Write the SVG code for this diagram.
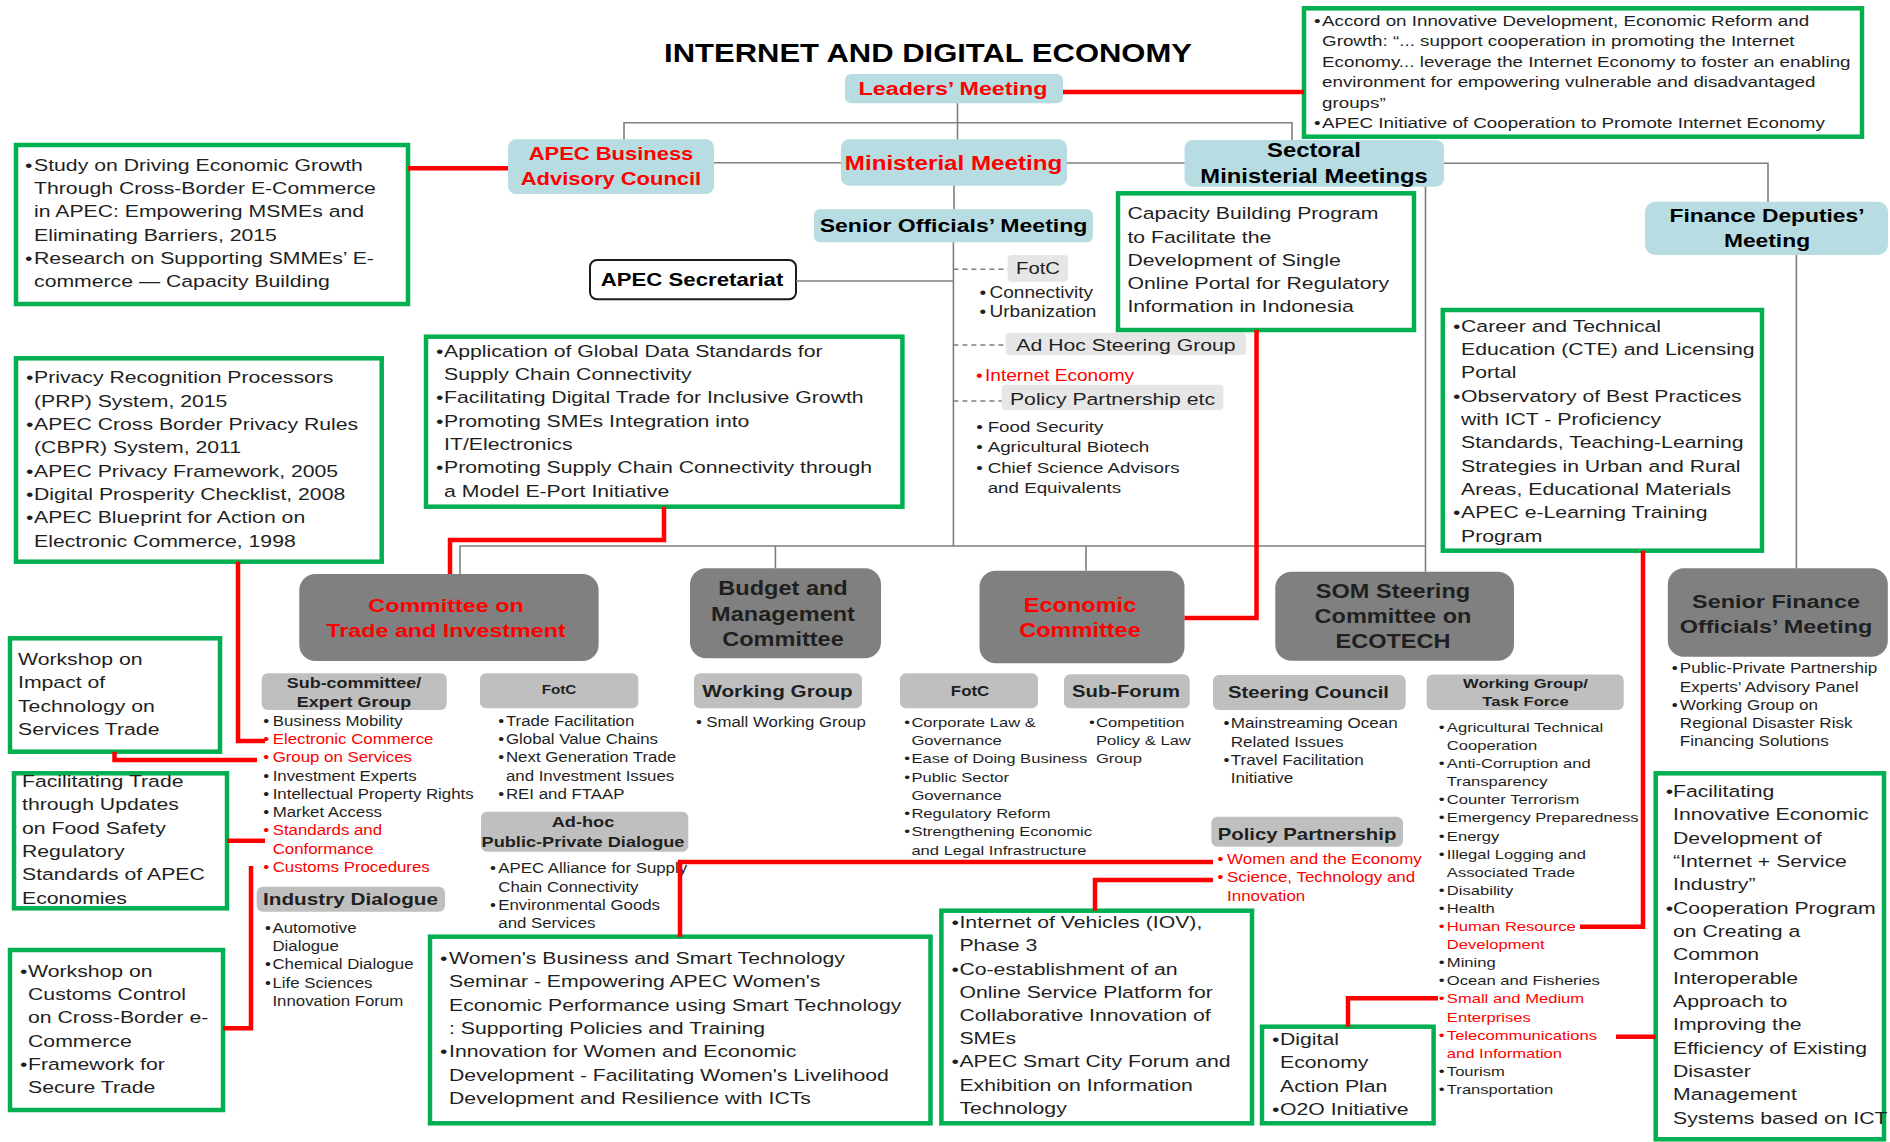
<svg xmlns="http://www.w3.org/2000/svg" width="1890" height="1142" viewBox="0 0 1890 1142">
<style>
text{font-family:"Liberation Sans",Arial,Helvetica,sans-serif;fill:#1f1f1f}
.b{font-weight:bold}
.r{fill:#ff0000}
.k{fill:#000000}
.m{text-anchor:middle}
.gb{fill:#ffffff;stroke:#00b050;stroke-width:4.5}
.lb{fill:#b7dde3}
.dg{fill:#808080}
.sg{fill:#bfbfbf}
.lg{fill:#e7e6e6}
.wb{fill:#ffffff;stroke:#1a1a1a;stroke-width:2}
.gl{fill:none;stroke:#7f7f7f;stroke-width:1.6}
.dl{fill:none;stroke:#7f7f7f;stroke-width:1.4;stroke-dasharray:5 4}
.rl{fill:none;stroke:#ff0000;stroke-width:4.5}
</style>
<rect width="1890" height="1142" fill="#ffffff"/>

<g id="title"><g transform="translate(928,0) scale(1.22,1)"><text class="b m k" y="62" font-size="25.4">INTERNET AND DIGITAL ECONOMY</text></g></g>

<g id="leaders-meeting">
<rect class="lb" x="845" y="74" width="218" height="29.3" rx="6"/>
<g transform="translate(953,0) scale(1.22,1)"><text class="b m r" y="95" font-size="19.1">Leaders’ Meeting</text></g>
</g>

<g id="ministerial-meeting">
<rect class="lb" x="841" y="139.3" width="226" height="46.4" rx="8"/>
<g transform="translate(953.5,0) scale(1.22,1)"><text class="b m r" y="170" font-size="19.8">Ministerial Meeting</text></g>
</g>

<g id="apec-business-advisory-council">
<rect class="lb" x="508" y="139.3" width="206" height="54.7" rx="8"/>
<g transform="translate(611,0) scale(1.22,1)" font-size="18"><text class="b m r" y="160">APEC Business</text><text class="b m r" y="185">Advisory Council</text></g>
</g>

<g id="sectoral-ministerial-meetings">
<rect class="lb" x="1184.5" y="140" width="259.5" height="46.7" rx="8"/>
<g transform="translate(1314,0) scale(1.22,1)" font-size="19.5"><text class="b m k" y="156.7">Sectoral</text><text class="b m k" y="182.7">Ministerial Meetings</text></g>
</g>

<g id="senior-officials-meeting">
<rect class="lb" x="814" y="209.3" width="279" height="33" rx="6"/>
<g transform="translate(953.5,0) scale(1.22,1)"><text class="b m k" y="232.3" font-size="18.9">Senior Officials’ Meeting</text></g>
</g>

<g id="apec-secretariat">
<rect class="wb" x="590" y="260" width="206" height="39.3" rx="7"/>
<g transform="translate(692,0) scale(1.22,1)"><text class="b m k" y="286" font-size="18.2">APEC Secretariat</text></g>
</g>

<g id="finance-deputies-meeting">
<rect class="lb" x="1645" y="201.7" width="243" height="53.3" rx="10"/>
<g transform="translate(1767,0) scale(1.22,1)" font-size="18.7"><text class="b m k" y="221.7">Finance Deputies’</text><text class="b m k" y="246.7">Meeting</text></g>
</g>

<g id="som-fotc">
<rect class="lg" x="1007.7" y="255" width="60.3" height="26.7" rx="4"/>
<g transform="translate(1038,0) scale(1.22,1)"><text class="m" y="274" font-size="16.6">FotC</text></g>
<g transform="translate(979.5,0) scale(1.22,1)" font-size="15.6">
<text y="297.7">•</text><text x="8.2" y="297.7">Connectivity</text>
<text y="316.7">•</text><text x="8.2" y="316.7">Urbanization</text>
</g>
</g>

<g id="som-adhoc-steering-group">
<rect class="lg" x="1005.6" y="332.7" width="240.4" height="22.3" rx="4"/>
<g transform="translate(1126,0) scale(1.22,1)"><text class="m" y="350.7" font-size="17.4">Ad Hoc Steering Group</text></g>
<g transform="translate(976,0) scale(1.22,1)" font-size="15.6">
<text class="r" y="381">•</text><text class="r" x="7.4" y="381">Internet Economy</text>
</g>
</g>

<g id="som-policy-partnership-etc">
<rect class="lg" x="1001.6" y="384.7" width="221.8" height="25.3" rx="4"/>
<g transform="translate(1112.5,0) scale(1.22,1)"><text class="m" y="405" font-size="17.4">Policy Partnership etc</text></g>
<g transform="translate(976.3,0) scale(1.22,1)" font-size="15.4">
<text y="431.7">•</text><text x="9.3" y="431.7">Food Security</text>
<text y="451.7">•</text><text x="9.3" y="451.7">Agricultural Biotech</text>
<text y="472.7">•</text><text x="9.3" y="472.7">Chief Science Advisors</text>
<text x="9.3" y="492.7">and Equivalents</text>
</g>
</g>

<g id="box-accord">
<rect class="gb" x="1304" y="8.3" width="558" height="128.4"/>
<g transform="translate(1314,0) scale(1.22,1)" font-size="15.4">
<text y="25.7">•</text><text x="6.6" y="25.7">Accord on Innovative Development, Economic Reform and</text>
<text x="6.6" y="46.2">Growth: “...  support cooperation in promoting the Internet</text>
<text x="6.6" y="66.7">Economy... leverage the Internet Economy to foster an enabling</text>
<text x="6.6" y="87.2">environment for empowering vulnerable and disadvantaged</text>
<text x="6.6" y="107.7">groups”</text>
<text y="128.2">•</text><text x="6.6" y="128.2">APEC Initiative of Cooperation to Promote Internet Economy</text>
</g>
</g>

<g id="box-study">
<rect class="gb" x="16" y="145" width="392" height="159"/>
<g transform="translate(25,0) scale(1.22,1)" font-size="17.4">
<text y="170.7">•</text><text x="7.4" y="170.7">Study on Driving Economic Growth</text>
<text x="7.4" y="194">Through Cross-Border E-Commerce</text>
<text x="7.4" y="217.3">in APEC: Empowering MSMEs and</text>
<text x="7.4" y="240.6">Eliminating Barriers, 2015</text>
<text y="264">•</text><text x="7.4" y="264">Research on Supporting SMMEs’ E-</text>
<text x="7.4" y="287.3">commerce — Capacity Building</text>
</g>
</g>

<g id="box-privacy">
<rect class="gb" x="16" y="358.3" width="365.7" height="203.4"/>
<g transform="translate(26,0) scale(1.22,1)" font-size="17.4">
<text y="383.4">•</text><text x="6.6" y="383.4">Privacy Recognition Processors</text>
<text x="6.6" y="406.7">(PRP) System, 2015</text>
<text y="430">•</text><text x="6.6" y="430">APEC Cross Border Privacy Rules</text>
<text x="6.6" y="453.4">(CBPR) System, 2011</text>
<text y="476.7">•</text><text x="6.6" y="476.7">APEC Privacy Framework, 2005</text>
<text y="500">•</text><text x="6.6" y="500">Digital Prosperity Checklist, 2008</text>
<text y="523.4">•</text><text x="6.6" y="523.4">APEC Blueprint for Action on</text>
<text x="6.6" y="546.7">Electronic Commerce, 1998</text>
</g>
</g>

<g id="box-application">
<rect class="gb" x="426" y="336.7" width="476.4" height="170"/>
<g transform="translate(436,0) scale(1.22,1)" font-size="17.4">
<text y="356.7">•</text><text x="6.6" y="356.7">Application of Global Data Standards for</text>
<text x="6.6" y="380">Supply Chain Connectivity</text>
<text y="403.3">•</text><text x="6.6" y="403.3">Facilitating Digital Trade for Inclusive Growth</text>
<text y="426.7">•</text><text x="6.6" y="426.7">Promoting SMEs Integration into</text>
<text x="6.6" y="450">IT/Electronics</text>
<text y="473.3">•</text><text x="6.6" y="473.3">Promoting Supply Chain Connectivity through</text>
<text x="6.6" y="496.7">a Model E-Port Initiative</text>
</g>
</g>

<g id="box-capacity-building">
<rect class="gb" x="1118" y="193.3" width="296" height="136.7"/>
<g transform="translate(1127.4,0) scale(1.22,1)" font-size="17.4">
<text y="219.5">Capacity Building Program</text>
<text y="242.6">to Facilitate the</text>
<text y="265.7">Development of Single</text>
<text y="288.8">Online Portal for Regulatory</text>
<text y="311.9">Information in Indonesia</text>
</g>
</g>

<g id="box-career">
<rect class="gb" x="1442.8" y="310" width="319.2" height="240.7"/>
<g transform="translate(1453,0) scale(1.22,1)" font-size="17.4">
<text y="331.7">•</text><text x="6.6" y="331.7">Career and Technical</text>
<text x="6.6" y="355">Education (CTE) and Licensing</text>
<text x="6.6" y="378.4">Portal</text>
<text y="401.7">•</text><text x="6.6" y="401.7">Observatory of Best Practices</text>
<text x="6.6" y="425">with ICT - Proficiency</text>
<text x="6.6" y="448.4">Standards, Teaching-Learning</text>
<text x="6.6" y="471.7">Strategies in Urban and Rural</text>
<text x="6.6" y="495">Areas, Educational Materials</text>
<text y="518.3">•</text><text x="6.6" y="518.3">APEC e-Learning Training</text>
<text x="6.6" y="541.7">Program</text>
</g>
</g>

<g id="committee-trade-investment">
<rect class="dg" x="299.3" y="574" width="299.3" height="87" rx="16"/>
<g transform="translate(446,0) scale(1.22,1)" font-size="19.1"><text class="b m r" y="611.7">Committee on</text><text class="b m r" y="636.7">Trade and Investment</text></g>
</g>

<g id="budget-management-committee">
<rect class="dg" x="690" y="568.3" width="191" height="90" rx="16"/>
<g transform="translate(783,0) scale(1.22,1)" font-size="19.3"><text class="b m" y="595">Budget and</text><text class="b m" y="620.7">Management</text><text class="b m" y="646">Committee</text></g>
</g>

<g id="economic-committee">
<rect class="dg" x="979.5" y="570.7" width="205" height="92.6" rx="16"/>
<g transform="translate(1080,0) scale(1.22,1)" font-size="19.3"><text class="b m r" y="611.7">Economic</text><text class="b m r" y="637.3">Committee</text></g>
</g>

<g id="som-steering-committee-ecotech">
<rect class="dg" x="1275.3" y="571.7" width="238.7" height="89" rx="16"/>
<g transform="translate(1393,0) scale(1.22,1)" font-size="19.3"><text class="b m" y="598.3">SOM Steering</text><text class="b m" y="623.3">Committee on</text><text class="b m" y="648.3">ECOTECH</text></g>
</g>

<g id="senior-finance-officials-meeting">
<rect class="dg" x="1667.8" y="568.3" width="220" height="88.4" rx="16"/>
<g transform="translate(1776,0) scale(1.22,1)" font-size="19.2"><text class="b m" y="608.3">Senior Finance</text><text class="b m" y="633.3">Officials’ Meeting</text></g>
<g transform="translate(1671.8,0) scale(1.22,1)" font-size="14">
<text y="673.3">•</text><text x="6.6" y="673.3">Public-Private Partnership</text>
<text x="6.6" y="691.6">Experts’ Advisory Panel</text>
<text y="709.9">•</text><text x="6.6" y="709.9">Working Group on</text>
<text x="6.6" y="728.2">Regional Disaster Risk</text>
<text x="6.6" y="746.5">Financing Solutions</text>
</g>
</g>

<g id="cti-subcommittee">
<rect class="sg" x="261.7" y="673.3" width="185" height="36.7" rx="6"/>
<g transform="translate(354,0) scale(1.22,1)" font-size="14.7"><text class="b m" y="688.3">Sub-committee/</text><text class="b m" y="706.7">Expert Group</text></g>
<g transform="translate(263.3,0) scale(1.22,1)" font-size="13.8">
<text y="725.7">•</text><text x="7.7" y="725.7">Business Mobility</text>
<text class="r" y="744">•</text><text class="r" x="7.7" y="744">Electronic Commerce</text>
<text class="r" y="762.3">•</text><text class="r" x="7.7" y="762.3">Group on Services</text>
<text y="780.6">•</text><text x="7.7" y="780.6">Investment Experts</text>
<text y="798.9">•</text><text x="7.7" y="798.9">Intellectual Property Rights</text>
<text y="817.2">•</text><text x="7.7" y="817.2">Market Access</text>
<text class="r" y="835.5">•</text><text class="r" x="7.7" y="835.5">Standards and</text>
<text class="r" x="7.7" y="853.8">Conformance</text>
<text class="r" y="872.1">•</text><text class="r" x="7.7" y="872.1">Customs Procedures</text>
</g>
</g>

<g id="cti-fotc">
<rect class="sg" x="480" y="673.3" width="158.3" height="35" rx="6"/>
<g transform="translate(559,0) scale(1.22,1)"><text class="b m" y="694.5" font-size="12.5">FotC</text></g>
<g transform="translate(498.3,0) scale(1.22,1)" font-size="13.8">
<text y="725.7">•</text><text x="6.3" y="725.7">Trade Facilitation</text>
<text y="744">•</text><text x="6.3" y="744">Global Value Chains</text>
<text y="762.3">•</text><text x="6.3" y="762.3">Next Generation Trade</text>
<text x="6.3" y="780.6">and Investment Issues</text>
<text y="798.9">•</text><text x="6.3" y="798.9">REI and FTAAP</text>
</g>
</g>

<g id="cti-adhoc-ppd">
<rect class="sg" x="481" y="811.7" width="207.3" height="40" rx="6"/>
<g transform="translate(583,0) scale(1.22,1)" font-size="14.9"><text class="b m" y="826.7">Ad-hoc</text><text class="b m" y="846.7">Public-Private Dialogue</text></g>
<g transform="translate(490,0) scale(1.22,1)" font-size="13.8">
<text y="873.3">•</text><text x="6.8" y="873.3">APEC Alliance for Supply</text>
<text x="6.8" y="891.6">Chain Connectivity</text>
<text y="909.9">•</text><text x="6.8" y="909.9">Environmental Goods</text>
<text x="6.8" y="928.2">and Services</text>
</g>
</g>

<g id="cti-industry-dialogue">
<rect class="sg" x="256.7" y="886.7" width="188.3" height="25" rx="6"/>
<g transform="translate(350.5,0) scale(1.22,1)"><text class="b m" y="905" font-size="17">Industry Dialogue</text></g>
<g transform="translate(265,0) scale(1.22,1)" font-size="13.8">
<text y="932.7">•</text><text x="6.1" y="932.7">Automotive</text>
<text x="6.1" y="951">Dialogue</text>
<text y="969.3">•</text><text x="6.1" y="969.3">Chemical Dialogue</text>
<text y="987.6">•</text><text x="6.1" y="987.6">Life Sciences</text>
<text x="6.1" y="1005.9">Innovation Forum</text>
</g>
</g>

<g id="bmc-working-group">
<rect class="sg" x="694" y="673.3" width="168" height="35" rx="6"/>
<g transform="translate(777.5,0) scale(1.22,1)"><text class="b m" y="697.5" font-size="17">Working Group</text></g>
<g transform="translate(696,0) scale(1.22,1)" font-size="13.8">
<text y="726.7">•</text><text x="8.4" y="726.7">Small Working Group</text>
</g>
</g>

<g id="ec-fotc">
<rect class="sg" x="900" y="673.3" width="138" height="35" rx="6"/>
<g transform="translate(970,0) scale(1.22,1)"><text class="b m" y="696.5" font-size="13.8">FotC</text></g>
<g transform="translate(904.3,0) scale(1.22,1)" font-size="13.6">
<text y="726.7">•</text><text x="5.8" y="726.7">Corporate Law &amp;</text>
<text x="5.8" y="745">Governance</text>
<text y="763.3">•</text><text x="5.8" y="763.3">Ease of Doing Business</text>
<text y="781.6">•</text><text x="5.8" y="781.6">Public Sector</text>
<text x="5.8" y="799.9">Governance</text>
<text y="818.2">•</text><text x="5.8" y="818.2">Regulatory Reform</text>
<text y="836.5">•</text><text x="5.8" y="836.5">Strengthening Economic</text>
<text x="5.8" y="854.8">and Legal Infrastructure</text>
</g>
</g>

<g id="ec-sub-forum">
<rect class="sg" x="1064" y="674.3" width="125.7" height="34" rx="6"/>
<g transform="translate(1126,0) scale(1.22,1)"><text class="b m" y="697" font-size="16.6">Sub-Forum</text></g>
<g transform="translate(1089,0) scale(1.22,1)" font-size="13.6">
<text y="726.7">•</text><text x="5.7" y="726.7">Competition</text>
<text x="5.7" y="745">Policy &amp; Law</text>
<text x="5.7" y="763.3">Group</text>
</g>
</g>

<g id="ecotech-steering-council">
<rect class="sg" x="1213" y="675" width="192.7" height="35" rx="6"/>
<g transform="translate(1308.5,0) scale(1.22,1)"><text class="b m" y="698.3" font-size="16.6">Steering Council</text></g>
<g transform="translate(1223.6,0) scale(1.22,1)" font-size="14">
<text y="728.3">•</text><text x="5.8" y="728.3">Mainstreaming Ocean</text>
<text x="5.8" y="746.6">Related Issues</text>
<text y="764.9">•</text><text x="5.8" y="764.9">Travel Facilitation</text>
<text x="5.8" y="783.2">Initiative</text>
</g>
</g>

<g id="ecotech-policy-partnership">
<rect class="sg" x="1211.4" y="816.7" width="191.6" height="30" rx="6"/>
<g transform="translate(1307,0) scale(1.22,1)"><text class="b m" y="840" font-size="16.7">Policy Partnership</text></g>
<g transform="translate(1217.5,0) scale(1.22,1)" font-size="13.9">
<text class="r" y="864">•</text><text class="r" x="7.8" y="864">Women and the Economy</text>
<text class="r" y="882.3">•</text><text class="r" x="7.8" y="882.3">Science, Technology and</text>
<text class="r" x="7.8" y="900.6">Innovation</text>
</g>
</g>

<g id="ecotech-working-group-task-force">
<rect class="sg" x="1426.7" y="674.5" width="197" height="35.5" rx="6"/>
<g transform="translate(1525.5,0) scale(1.22,1)" font-size="13.6"><text class="b m" y="688.3">Working Group/</text><text class="b m" y="706">Task Force</text></g>
<g transform="translate(1438.8,0) scale(1.22,1)" font-size="13.6">
<text y="732">•</text><text x="6.6" y="732">Agricultural Technical</text>
<text x="6.6" y="750.1">Cooperation</text>
<text y="768.2">•</text><text x="6.6" y="768.2">Anti-Corruption and</text>
<text x="6.6" y="786.3">Transparency</text>
<text y="804.4">•</text><text x="6.6" y="804.4">Counter Terrorism</text>
<text y="822.5">•</text><text x="6.6" y="822.5">Emergency Preparedness</text>
<text y="840.6">•</text><text x="6.6" y="840.6">Energy</text>
<text y="858.7">•</text><text x="6.6" y="858.7">Illegal Logging and</text>
<text x="6.6" y="876.8">Associated Trade</text>
<text y="894.9">•</text><text x="6.6" y="894.9">Disability</text>
<text y="913">•</text><text x="6.6" y="913">Health</text>
<text class="r" y="931.1">•</text><text class="r" x="6.6" y="931.1">Human Resource</text>
<text class="r" x="6.6" y="949.2">Development</text>
<text y="967.3">•</text><text x="6.6" y="967.3">Mining</text>
<text y="985.4">•</text><text x="6.6" y="985.4">Ocean and Fisheries</text>
<text class="r" y="1003.5">•</text><text class="r" x="6.6" y="1003.5">Small and Medium</text>
<text class="r" x="6.6" y="1021.6">Enterprises</text>
<text class="r" y="1039.7">•</text><text class="r" x="6.6" y="1039.7">Telecommunications</text>
<text class="r" x="6.6" y="1057.8">and Information</text>
<text y="1075.9">•</text><text x="6.6" y="1075.9">Tourism</text>
<text y="1094">•</text><text x="6.6" y="1094">Transportation</text>
</g>
</g>

<g id="box-workshop-impact">
<rect class="gb" x="10" y="638.3" width="210" height="113.4"/>
<g transform="translate(18,0) scale(1.22,1)" font-size="17.4">
<text y="665">Workshop on</text>
<text y="688.3">Impact of</text>
<text y="711.7">Technology on</text>
<text y="735">Services Trade</text>
</g>
</g>

<g id="box-facilitating-trade">
<rect class="gb" x="14" y="773.3" width="213" height="135"/>
<g transform="translate(22,0) scale(1.22,1)" font-size="17.4">
<text y="787">Facilitating Trade</text>
<text y="810.3">through Updates</text>
<text y="833.7">on Food Safety</text>
<text y="857">Regulatory</text>
<text y="880.3">Standards of APEC</text>
<text y="903.7">Economies</text>
</g>
</g>

<g id="box-workshop-customs">
<rect class="gb" x="10" y="950" width="213" height="160"/>
<g transform="translate(20,0) scale(1.22,1)" font-size="17.4">
<text y="976.7">•</text><text x="6.6" y="976.7">Workshop on</text>
<text x="6.6" y="1000">Customs Control</text>
<text x="6.6" y="1023.3">on Cross-Border e-</text>
<text x="6.6" y="1046.7">Commerce</text>
<text y="1070">•</text><text x="6.6" y="1070">Framework for</text>
<text x="6.6" y="1093.3">Secure Trade</text>
</g>
</g>

<g id="box-women">
<rect class="gb" x="430" y="936.7" width="500.5" height="186.6"/>
<g transform="translate(440,0) scale(1.22,1)" font-size="17.4">
<text y="964">•</text><text x="7.4" y="964">Women's Business and Smart Technology</text>
<text x="7.4" y="987.3">Seminar - Empowering APEC Women's</text>
<text x="7.4" y="1010.7">Economic Performance using Smart Technology</text>
<text x="7.4" y="1034">: Supporting Policies and Training</text>
<text y="1057.3">•</text><text x="7.4" y="1057.3">Innovation for Women and Economic</text>
<text x="7.4" y="1080.7">Development - Facilitating Women's Livelihood</text>
<text x="7.4" y="1104">Development and Resilience with ICTs</text>
</g>
</g>

<g id="box-iov">
<rect class="gb" x="941.4" y="910.7" width="310.6" height="212.6"/>
<g transform="translate(951.4,0) scale(1.22,1)" font-size="17.4">
<text y="928.3">•</text><text x="6.6" y="928.3">Internet of Vehicles (IOV),</text>
<text x="6.6" y="951.5">Phase 3</text>
<text y="974.7">•</text><text x="6.6" y="974.7">Co-establishment of an</text>
<text x="6.6" y="997.9">Online Service Platform for</text>
<text x="6.6" y="1021.1">Collaborative Innovation of</text>
<text x="6.6" y="1044.3">SMEs</text>
<text y="1067.5">•</text><text x="6.6" y="1067.5">APEC Smart City Forum and</text>
<text x="6.6" y="1090.7">Exhibition on Information</text>
<text x="6.6" y="1113.9">Technology</text>
</g>
</g>

<g id="box-digital-economy">
<rect class="gb" x="1262" y="1026.7" width="171.6" height="96.6"/>
<g transform="translate(1272,0) scale(1.22,1)" font-size="17.4">
<text y="1045">•</text><text x="6.6" y="1045">Digital</text>
<text x="6.6" y="1068.3">Economy</text>
<text x="6.6" y="1091.7">Action Plan</text>
<text y="1115">•</text><text x="6.6" y="1115">O2O Initiative</text>
</g>
</g>

<g id="box-facilitating-innovative">
<rect class="gb" x="1655.7" y="773.3" width="228.3" height="366"/>
<g transform="translate(1665.8,0) scale(1.22,1)" font-size="17.4">
<text y="797.2">•</text><text x="5.9" y="797.2">Facilitating</text>
<text x="5.9" y="820.5">Innovative Economic</text>
<text x="5.9" y="843.9">Development of</text>
<text x="5.9" y="867.2">“Internet + Service</text>
<text x="5.9" y="890.5">Industry”</text>
<text y="913.9">•</text><text x="5.9" y="913.9">Cooperation Program</text>
<text x="5.9" y="937.2">on Creating a</text>
<text x="5.9" y="960.5">Common</text>
<text x="5.9" y="983.8">Interoperable</text>
<text x="5.9" y="1007.2">Approach to</text>
<text x="5.9" y="1030.5">Improving the</text>
<text x="5.9" y="1053.8">Efficiency of Existing</text>
<text x="5.9" y="1077.2">Disaster</text>
<text x="5.9" y="1100.5">Management</text>
<text x="5.9" y="1123.8">Systems based on ICT</text>
</g>
</g>

<g id="connectors">
<path class="gl" d="M957.5 103.3V139.3"/>
<path class="gl" d="M624 139.3V122.7H1292V140"/>
<path class="gl" d="M714 162.7H841"/>
<path class="gl" d="M1067 163H1184.5"/>
<path class="gl" d="M954 185.7V209.3"/>
<path class="gl" d="M953.4 242.3V546"/>
<path class="gl" d="M796 281H953.4"/>
<path class="dl" d="M953.4 269.3H1007.7"/>
<path class="dl" d="M953.4 345H1005.6"/>
<path class="dl" d="M953.4 401H1001.6"/>
<path class="gl" d="M1444 163.3H1768V201.7"/>
<path class="gl" d="M1425.5 186.7V571.7"/>
<path class="gl" d="M460 574V546H1425.5"/>
<path class="gl" d="M775.4 546V568.3"/>
<path class="gl" d="M1086 546V570.7"/>
<path class="gl" d="M1796.4 255V568.3"/>
<path class="rl" d="M1063 92H1304"/>
<path class="rl" d="M408 168.3H508"/>
<path class="rl" d="M238 561.7V741H265"/>
<path class="rl" d="M114.5 751.7V760H257"/>
<path class="rl" d="M227 840.7H265"/>
<path class="rl" d="M223 1028.3H251V866"/>
<path class="rl" d="M664 506.7V540H450V574"/>
<path class="rl" d="M1256.5 330V618H1184.5"/>
<path class="rl" d="M1643 550.7V926.7H1580"/>
<path class="rl" d="M1213 862H680V936.7"/>
<path class="rl" d="M1213 880H1095V910.7"/>
<path class="rl" d="M1438 998.3H1348V1026.7"/>
<path class="rl" d="M1616 1036.7H1655.7"/>
</g>
</svg>
